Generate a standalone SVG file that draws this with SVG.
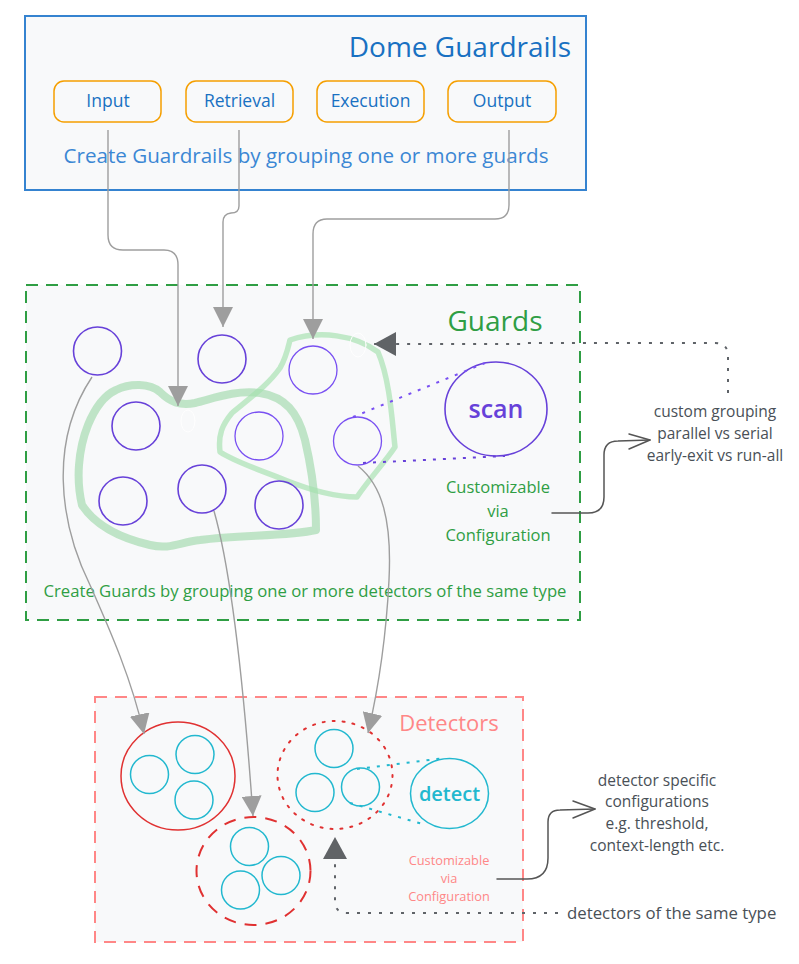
<svg xmlns="http://www.w3.org/2000/svg" width="799" height="964" viewBox="0 0 799 964">
<style>
text{font-family:"Open Sans","Noto Sans","Liberation Sans",sans-serif}
.box{fill:#f8f9fa}
.btn{fill:#f8f9fa;stroke:#f59f00;stroke-width:1.5}
.btxt{fill:#1971c2;font-size:17.5px;text-anchor:middle}
.pc{fill:none;stroke:#6741d9;stroke-width:1.6}
.pl{fill:none;stroke:#7950f2;stroke-width:1.3}
.cy{fill:none;stroke:#22b8cf;stroke-width:1.5}
.gc{fill:none;stroke:#9e9e9e;stroke-width:1.4}
.dot{fill:none;stroke:#5f6368;stroke-width:2;stroke-dasharray:3 8}
.ann{fill:none;stroke:#555;stroke-width:1.5;stroke-linecap:round;stroke-linejoin:round}
.note{fill:#495057;font-size:15.5px;text-anchor:middle}
.gtxt{fill:#2f9e44;text-anchor:middle}
</style>
<defs>
<marker id="ga" viewBox="0 0 20 20" refX="20" refY="10" markerWidth="20" markerHeight="20" markerUnits="userSpaceOnUse" orient="auto"><path d="M0,0 L20,10 L0,20 Z" fill="#9e9e9e"/></marker>
<marker id="da" viewBox="0 0 22 24" refX="22" refY="12" markerWidth="22" markerHeight="24" markerUnits="userSpaceOnUse" orient="auto"><path d="M0,0 L22,12 L0,24 Z" fill="#606366"/></marker>
</defs>
<rect width="799" height="964" fill="#ffffff"/>

<g id="dome">
<rect class="box" x="25" y="16" width="561" height="174" stroke="#3583d0" stroke-width="2"/>
<text x="571" y="57" font-size="28" fill="#1971c2" text-anchor="end">Dome Guardrails</text>
<text x="306" y="163" font-size="20.6" fill="#3b87d4" text-anchor="middle">Create Guardrails by grouping one or more guards</text>
</g>
<g id="btn-input"><rect class="btn" x="54" y="81" width="107" height="41" rx="10"/><text class="btxt" x="108" y="107">Input</text></g>
<g id="btn-retrieval"><rect class="btn" x="186" y="81" width="107" height="41" rx="10"/><text class="btxt" x="239.5" y="107">Retrieval</text></g>
<g id="btn-execution"><rect class="btn" x="317" y="81" width="107" height="41" rx="10"/><text class="btxt" x="370.5" y="107">Execution</text></g>
<g id="btn-output"><rect class="btn" x="448" y="81" width="108" height="41" rx="10"/><text class="btxt" x="502" y="107">Output</text></g>

<g id="guards">
<rect class="box" x="26" y="285" width="554" height="335" stroke="#2f9e44" stroke-width="2" stroke-dasharray="12 8"/>
<text class="gtxt" x="495" y="331" font-size="28">Guards</text>
<text class="gtxt" x="305" y="597" font-size="16.7">Create Guards by grouping one or more detectors of the same type</text>
<text class="gtxt" x="498" y="493" font-size="16.5">Customizable</text>
<text class="gtxt" x="498" y="517" font-size="16.5">via</text>
<text class="gtxt" x="498" y="541" font-size="16.5">Configuration</text>
</g>
<g id="blobs" fill="none" stroke-linejoin="round" stroke-linecap="round">
<path d="M 116 390 C 130 383, 150 383, 160 392 C 170 402, 180 406, 195 403 C 215 398, 235 390, 260 393 C 285 397, 298 412, 305 440 C 312 470, 316 500, 316 530 C 290 536, 240 535, 200 540 C 180 542, 170 550, 150 545 C 120 538, 95 525, 82 505 C 76 480, 78 450, 88 425 C 95 408, 105 395, 116 390 Z" stroke="#8fd49c" stroke-opacity="0.55" stroke-width="8"/>
<path d="M 290 340 C 320 330, 355 335, 378 352 C 390 380, 392 420, 395 447 C 385 462, 370 478, 357 497 C 335 497, 310 490, 285 480 C 260 470, 235 462, 220 452 C 218 435, 222 425, 232 413 C 250 398, 268 385, 280 368 C 286 358, 288 348, 290 340 Z" stroke="#a3e0ad" stroke-opacity="0.65" stroke-width="5.5"/>
<ellipse cx="188" cy="421" rx="7" ry="11" fill="none" stroke="#ffffff" stroke-width="1"/>
<ellipse cx="358" cy="345" rx="8" ry="12" fill="none" stroke="#ffffff" stroke-width="1"/>
</g>
<g id="g1"><circle class="pc" cx="97.5" cy="351" r="24"/></g>
<g id="g2"><circle class="pc" cx="222" cy="359" r="24"/></g>
<g id="g3"><circle class="pl" cx="313" cy="370" r="24"/></g>
<g id="g4"><circle class="pc" cx="136" cy="426" r="24"/></g>
<g id="g5"><circle class="pl" cx="259" cy="436" r="24"/></g>
<g id="g6"><circle class="pl" cx="357.5" cy="441" r="24"/></g>
<g id="g7"><circle class="pc" cx="123" cy="501" r="24"/></g>
<g id="g8"><circle class="pc" cx="202" cy="489" r="24"/></g>
<g id="g9"><circle class="pc" cx="279" cy="505" r="24"/></g>
<g id="scan">
<ellipse class="pc" cx="496" cy="409" rx="51" ry="47"/>
<text x="496" y="418" font-size="25" font-weight="600" fill="#6741d9" text-anchor="middle">scan</text>
</g>

<g id="detectors">
<rect class="box" x="95" y="697" width="428" height="245" stroke="#ff8787" stroke-width="2" stroke-dasharray="12 8"/>
<text x="449" y="731" font-size="22" fill="#ff8787" text-anchor="middle">Detectors</text>
<text x="449" y="865" font-size="12.8" fill="#ff8787" text-anchor="middle">Customizable</text>
<text x="449" y="883" font-size="12.8" fill="#ff8787" text-anchor="middle">via</text>
<text x="449" y="901" font-size="12.8" fill="#ff8787" text-anchor="middle">Configuration</text>
</g>
<g id="dgroup1">
<ellipse cx="178" cy="776" rx="57" ry="54" fill="none" stroke="#e03131" stroke-width="1.5"/>
<circle class="cy" cx="149.5" cy="774.5" r="19"/>
<circle class="cy" cx="195" cy="754.5" r="19"/>
<circle class="cy" cx="194" cy="800" r="19"/>
</g>
<g id="dgroup2">
<ellipse cx="253.5" cy="871" rx="57" ry="54" fill="none" stroke="#e03131" stroke-width="2" stroke-dasharray="12 9"/>
<circle class="cy" cx="249.5" cy="846.5" r="19"/>
<circle class="cy" cx="281" cy="875.5" r="19"/>
<circle class="cy" cx="240.5" cy="890" r="19"/>
</g>
<g id="dgroup3">
<ellipse cx="335" cy="775" rx="57.5" ry="54" fill="none" stroke="#e03131" stroke-width="2" stroke-dasharray="2 8" stroke-linecap="round"/>
<circle class="cy" cx="334" cy="748.5" r="19"/>
<circle class="cy" cx="315" cy="792.5" r="19"/>
<circle class="cy" cx="360.5" cy="787" r="19"/>
</g>
<g id="detect">
<ellipse class="cy" cx="449.5" cy="793.5" rx="39" ry="35"/>
<text x="449.5" y="801" font-size="20" font-weight="600" fill="#22b8cf" text-anchor="middle">detect</text>
</g>

<g id="notes">
<text class="note" x="715" y="417">custom grouping</text>
<text class="note" x="715" y="439">parallel vs serial</text>
<text class="note" x="715" y="461">early-exit vs run-all</text>
<text class="note" x="657" y="786">detector specific</text>
<text class="note" x="657" y="807">configurations</text>
<text class="note" x="657" y="829">e.g. threshold,</text>
<text class="note" x="657" y="851">context-length etc.</text>
<text x="567" y="919" font-size="16.8" fill="#495057">detectors of the same type</text>
</g>

<g id="connectors">
<path class="gc" d="M 108 130 L 108 235 Q 108 250 123 250 L 164 250 Q 178 250 178 265 L 178 406" marker-end="url(#ga)"/>
<path class="gc" d="M 239 130 L 239 206 Q 239 213 231 213 Q 223 214 223 222 L 223 327" marker-end="url(#ga)"/>
<path class="gc" d="M 509 130 L 509 205 Q 509 219 495 219 L 327 219 Q 313 219 313 234 L 313 339" marker-end="url(#ga)"/>
<path class="gc" d="M 92 377 C 50 440, 58 520, 90 585 C 110 630, 132 680, 144 734" marker-end="url(#ga)"/>
<path class="gc" d="M 214 511 C 228 560, 242 660, 253 816" marker-end="url(#ga)"/>
<path class="gc" d="M 358 466 C 382 485, 392 520, 389 580 C 386 640, 378 690, 368 733" marker-end="url(#ga)"/>
<path d="M 353 417 L 485 363" fill="none" stroke="#7950f2" stroke-width="2" stroke-dasharray="3 7"/>
<path d="M 363 463 L 505 456" fill="none" stroke="#6741d9" stroke-width="2" stroke-dasharray="3 7"/>
<path d="M 357 769 L 445 758" fill="none" stroke="#22b8cf" stroke-width="2" stroke-dasharray="3 7"/>
<path d="M 350 803 L 426 825" fill="none" stroke="#22b8cf" stroke-width="2" stroke-dasharray="3 7"/>
<path class="dot" d="M 728 393 L 728 356 Q 728 343 715 343 L 525 343 L 522 344 L 374 344" marker-end="url(#da)"/>
<path class="dot" d="M 558 913 L 347 913 Q 335 913 335 901 L 335 837" marker-end="url(#da)"/>
<path class="ann" d="M 552 513 L 588 513 Q 604 513 604 497 L 604 455 Q 604 441 618 441 L 650 440"/>
<path class="ann" d="M 629 434 L 650 440 L 629 449"/>
<path class="ann" d="M 497 879 L 527 879 Q 548 879 548 858 L 548 822 Q 548 810 560 810 L 595 809"/>
<path class="ann" d="M 573 801 L 595 809 L 573 818"/>
</g>
</svg>
